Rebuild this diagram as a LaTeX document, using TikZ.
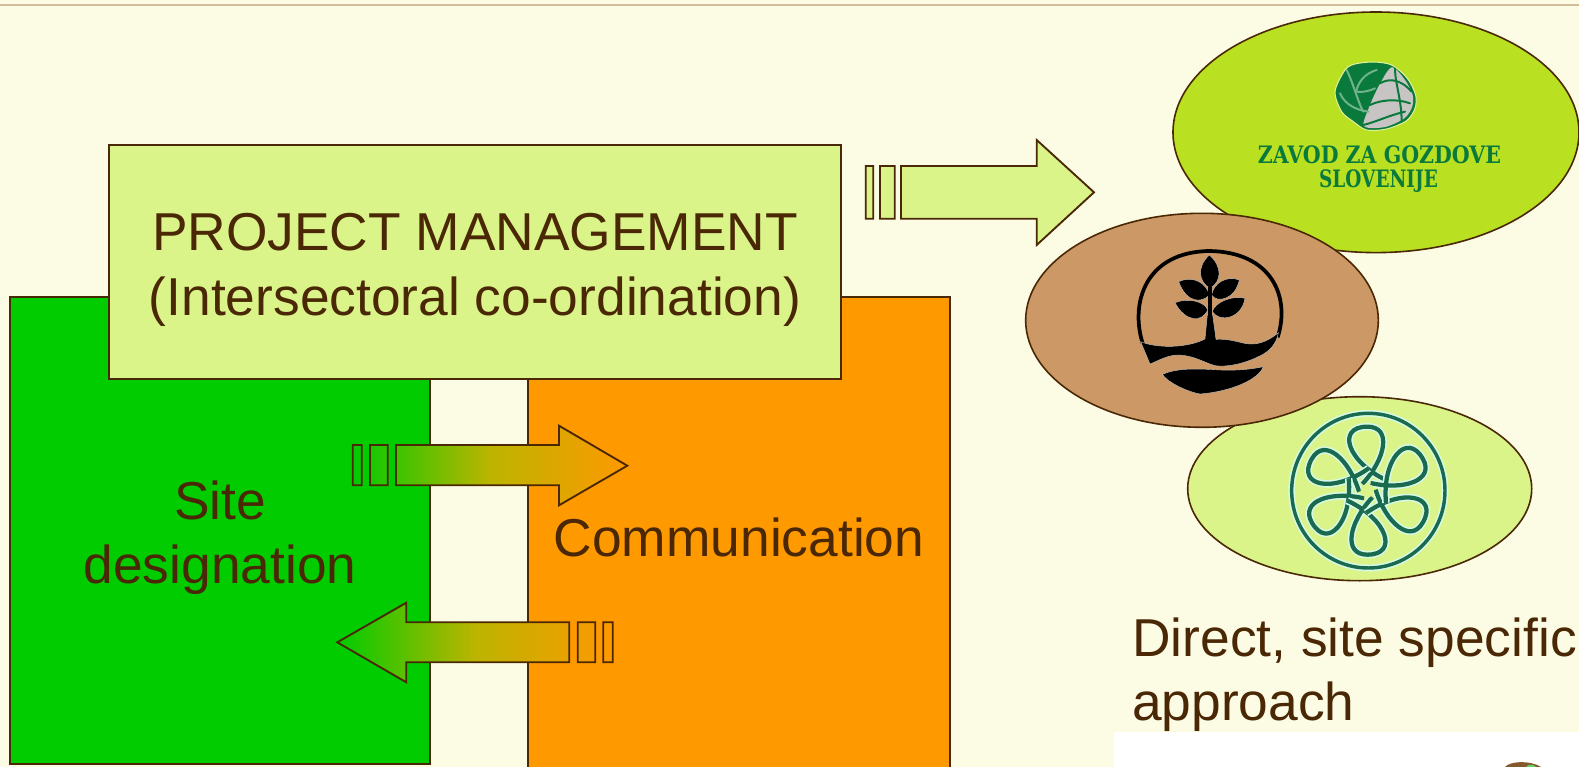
\documentclass[tikz,border=0pt]{standalone}
\usepackage{graphicx}
\usepackage{fontspec}
\setmainfont{Liberation Sans}
\newfontfamily\logofont{DejaVu Serif}
\usetikzlibrary{shapes.geometric}
\definecolor{pagebg}{HTML}{FCFBE3}
\definecolor{topline}{HTML}{D2BE9B}
\definecolor{edgebrown}{HTML}{4A2705}
\definecolor{sitegreen}{HTML}{00CC00}
\definecolor{commorange}{HTML}{FF9900}
\definecolor{midmix}{HTML}{BCB400}
\definecolor{palegreen}{HTML}{DAF48A}
\definecolor{limegreen}{HTML}{B9E021}
\definecolor{soilbrown}{HTML}{CC9966}
\definecolor{logogreen}{HTML}{0A7A3C}
\definecolor{veingreen}{HTML}{6FB38A}
\definecolor{logogray}{HTML}{C8C4C4}
\definecolor{flowergreen}{HTML}{1A6A50}
\definecolor{flowerhalo}{HTML}{D6FAE6}
\begin{document}
\begin{tikzpicture}[x=0.75pt,y=-0.75pt,
		every node/.style={text=edgebrown,font=\fontsize{40}{48}\selectfont,align=center},
		block/.style={rectangle,draw=edgebrown,line width=1.5pt,inner sep=0pt},
		blob/.style={ellipse,draw=edgebrown,line width=1.2pt,inner sep=0pt},
		stripedarrow/.style={draw=edgebrown,line width=1.4pt,line join=miter},
		blendarrow/.style={stripedarrow,left color=sitegreen,right color=commorange,middle color=midmix},
		blackmark/.style={fill=black,draw=logogray,line width=0.3pt},
		vein/.style={draw=#1,line width=1.5pt,line cap=round},
		flowerring/.style={draw=flowergreen,line width=2.6pt,preaction={draw=flowerhalo,line width=5pt}},
		flowerline/.style={draw=flowergreen,line width=3.2pt,preaction={draw=flowerhalo,line width=5.6pt}},
		logotext/.style={text=logogreen,font=\logofont\bfseries\fontsize{18}{20}\selectfont}]

		\useasboundingbox (0,0) rectangle (1579,767);
		\clip (0,0) rectangle (1579,767);
		\fill[pagebg] (0,0) rectangle (1579,767);
		\fill[topline] (0,4) rectangle (1579,6);

		% boxes
		\node[block,fill=sitegreen,minimum width=315pt,minimum height=350.25pt] (site) at (220,530.5) {};
		\node (sitetext) at ([yshift=-5.5pt]site.center) {Site\\designation};
		\node[block,fill=commorange,minimum width=316.5pt,minimum height=360pt] (comm) at (739,537) {Communication};
		\node[block,fill=palegreen,minimum width=549pt,minimum height=175.5pt] (mgmt) at (475,262) {};
		\node[font=\fontsize{40}{49}\selectfont] (mgmttext) at ([yshift=-6pt]mgmt.center) {PROJECT MANAGEMENT\\(Intersectoral co-ordination)};

		% block arrows
		\path[stripedarrow,fill=palegreen]
			(865.7,166) rectangle (873.3,218.7)
			(880,166) rectangle (894.7,218.7)
			(901,166) -- (1036.7,166) -- (1036.7,140) -- (1094,192.3) -- (1036.7,245) -- (1036.7,218.7) -- (901,218.7) -- cycle;
		\path[blendarrow]
			(352.7,445) rectangle (361.7,485.3)
			(370,445) rectangle (387.7,485.3)
			(396,445) -- (559,445) -- (559,425.7) -- (627.3,465.7) -- (559,505.3) -- (559,485.3) -- (396,485.3) -- cycle;
		\path[blendarrow]
			(337.3,642.3) -- (406.3,602.7) -- (406.3,622.3) -- (569.3,622.3) -- (569.3,662.3) -- (406.3,662.3) -- (406.3,682.3) -- cycle
			(577.7,622.3) rectangle (595.3,662.3)
			(603.3,622.3) rectangle (612.7,662.3);

		% partner ovals
		\node[blob,fill=palegreen,minimum width=258pt,minimum height=138pt] (ovalflower) at (1359.7,488.7) {};
		\node[blob,fill=limegreen,minimum width=304.5pt,minimum height=180.45pt] (ovalforest) at (1376,132.3) {};
		\node[blob,fill=soilbrown,minimum width=264.5pt,minimum height=160.5pt] (ovaltree) at (1202,320.3) {};

		% forest service logo
		\begin{scope}[shift={(1320,50)},scale=1/3]
			\path[fill=logogreen,draw=white!55!limegreen,line width=0.8pt] plot[smooth cycle] coordinates {(45,125) (75,60) (105,42) (160,36) (215,45) (262,85) (287,135) (285,175) (260,212) (200,237) (140,240) (100,215) (65,185)};
			\fill[logogray] plot[smooth cycle] coordinates {(215,52) (255,90) (278,135) (276,172) (253,205) (200,230) (150,234) (130,222) (150,165) (178,105)};
			\draw[vein=logogreen] (180,100) .. controls (205,85) and (240,85) .. (275,125);
			\draw[vein=logogreen] (225,55) .. controls (225,100) and (245,150) .. (245,215);
			\draw[vein=logogreen] (150,165) .. controls (180,150) and (230,145) .. (270,160);
			\draw[vein=logogreen] (130,225) .. controls (170,215) and (210,195) .. (255,185);
			\draw[vein=veingreen] (80,60) .. controls (100,100) and (115,160) .. (130,185);
			\draw[vein=veingreen] (60,130) .. controls (75,165) and (110,180) .. (145,185);
			\draw[vein=veingreen] (170,60) .. controls (135,70) and (115,95) .. (108,125);
			\draw[vein=veingreen] (108,125) .. controls (130,128) and (150,122) .. (165,115);
		\end{scope}
		\node[logotext] (forestname) at (1379.5,155) {\scalebox{.855}[1]{ZAVOD ZA GOZDOVE}};
		\node[logotext] (forestcountry) at (1378.5,181) {\scalebox{.77}[1]{SLOVENIJE}};

		% tree logo
		\begin{scope}[shift={(1130,240)},scale=1/3]
			\draw[black,line width=2.8pt] (38,310) .. controls (0,190) and (45,36) .. (238,33) .. controls (425,36) and (482,170) .. (443,292);
			\path[blackmark] (32,305) .. controls (80,325) and (170,325) .. (225,297) -- (232,225) -- (248,225) -- (258,298)
				.. controls (310,295) and (340,315) .. (370,312) .. controls (400,310) and (425,295) .. (445,278)
				.. controls (440,310) and (420,335) .. (385,350) .. controls (340,372) and (290,382) .. (255,377)
				.. controls (215,365) and (190,345) .. (140,345) .. controls (110,347) and (85,362) .. (60,372) -- cycle;
			\path[blackmark] (97,403) .. controls (140,385) and (190,385) .. (270,390) .. controls (320,392) and (365,388) .. (400,380)
				.. controls (385,420) and (300,455) .. (210,462) .. controls (170,455) and (110,425) .. (97,403) -- cycle;
			\path[blackmark] (238,45) .. controls (200,80) and (205,125) .. (240,145) .. controls (275,125) and (278,80) .. (238,45) -- cycle;
			\path[blackmark] (146,125) .. controls (190,105) and (230,130) .. (238,165) .. controls (215,190) and (170,190) .. (146,125) -- cycle;
			\path[blackmark] (328,120) .. controls (290,105) and (250,130) .. (245,165) .. controls (260,190) and (315,180) .. (328,120) -- cycle;
			\path[blackmark] (135,188) .. controls (175,172) and (225,185) .. (233,210) .. controls (215,250) and (165,245) .. (135,188) -- cycle;
			\path[blackmark] (345,175) .. controls (310,165) and (255,185) .. (247,215) .. controls (270,250) and (335,235) .. (345,175) -- cycle;
			\fill[black] (234,140) rectangle (246,230);
		\end{scope}

		% flower logo
		\begin{scope}[shift={(1280,405)},scale=1/3]
			\path[flowerring] (265,257) ellipse (230 and 232);
			\foreach \ang in {0,60,...,300}
				\path[flowerline,shift={(262,257)},rotate=\ang] (60,-30) .. controls (-60,-85) and (-95,-192) .. (0,-192) .. controls (75,-192) and (55,-95) .. (-15,-20);
			\fill[palegreen] (262,257) circle (20);
		\end{scope}

		% photo strip, cut off by the page
		\fill[white] (1114,732) rectangle (1579,767);
		\fill[brown!70!black] (1505,767) .. controls (1510,761) and (1530,760) .. (1541,767) -- cycle;
		\fill[green!70!black!60!white] (1526,767) .. controls (1528,764) and (1534,764) .. (1536,767) -- cycle;

		\node[anchor=north west,align=left,inner sep=0pt,font=\fontsize{40}{47.5}\selectfont] (approach) at (1132,618) {Direct, site specific\\approach};
\end{tikzpicture}
\end{document}
